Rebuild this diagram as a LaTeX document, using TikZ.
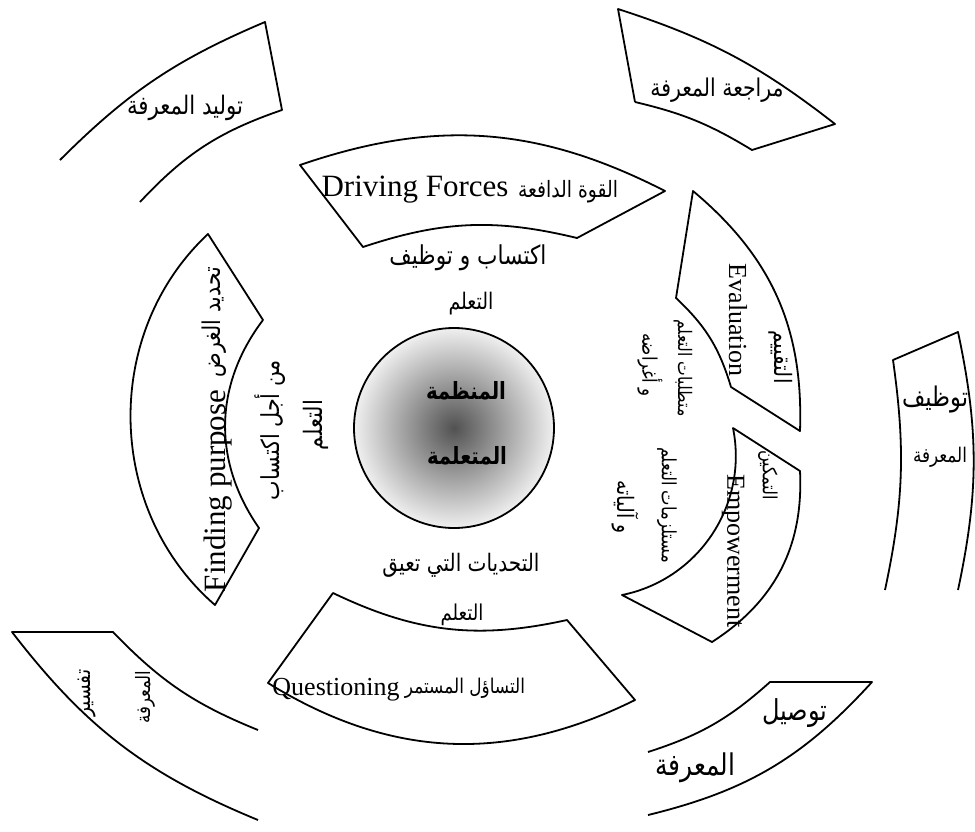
\documentclass[tikz,border=0pt]{standalone}
\usepackage{fontspec}
\usepackage{graphicx}
\setmainfont{Liberation Serif}
\newfontfamily\arabicfont[Script=Arabic]{DejaVu Sans}
\TeXXeTstate=1
% Arabic label scaled to a given width (in pt), slightly stretched upward
\newcommand{\artext}[2]{\scalebox{1}[1.2]{\resizebox{#1pt}{!}{\arabicfont #2}}}
\newcommand{\arbold}[2]{\scalebox{1}[1.2]{\resizebox{#1pt}{!}{\arabicfont\bfseries #2}}}
\begin{document}
\begin{tikzpicture}[x=1pt,y=-1pt,
  seg/.style={draw=black,line width=1.8pt,line join=round},
  lat/.style={inner sep=0pt,font=\fontsize{31}{31}\selectfont},
  latsm/.style={inner sep=0pt,font=\fontsize{26}{26}\selectfont},
  lab/.style={inner sep=0pt}]
\useasboundingbox (0,0) rectangle (975,831);

% centre disc
\shade[inner color=black!68,outer color=black!6] (454,428) circle (100);
\draw[line width=1.8pt] (454,428) circle (100);
\node[lab] (c1) at (466,391) {\arbold{80}{\beginR المنظمة\endR}};
\node[lab] (c2) at (467,456) {\arbold{80}{\beginR المتعلمة\endR}};

% inner ring segments
\draw[seg] (300,165) to[bend left=23] (665,191) -- (577,238) to[bend right=16] (363,247) -- cycle;
\draw[seg] (693,191) to[bend left=26] (800,431) -- (731,387) to[bend right=15] (676,298) -- cycle;
\draw[seg] (733,428) -- (800,471) to[bend left=30] (712,642) -- (622,595) to[bend right=45] (733,428) -- cycle;
\draw[seg] (208,234) to[bend right=48] (215,605) -- (259,528) to[bend left=36] (263,320) -- cycle;
\draw[seg] (333,593) to[bend right=19] (567,620) -- (635,700) to[bend left=29] (268,683) -- cycle;

% outer boxes
\draw[seg] (60,160) to[bend left=11] (265,22) -- (282,110) to[bend right=14] (140,202);
\draw[seg] (635,102) -- (618,9) to[bend left=10] (835,124) -- (752,150) to[bend right=9] (635,102);
\draw[seg] (885,590) to[bend right=10] (893,360) -- (958,332) to[bend left=12] (958,590);
\draw[seg] (258,820) to[bend left=15] (12,632) -- (113,632) to[bend right=12] (258,730);
\draw[seg] (648,815) to[bend right=17] (872,682) -- (770,682) to[bend left=12] (648,752);

% labels: top segment
\node[lat] (df) at (415,190) {Driving Forces};
\node[lab] (dfa) at (568,192) {\artext{100}{\beginR القوة الدافعة\endR}};
\node[lab] (t1) at (468,258) {\artext{157}{\beginR اكتساب و توظيف\endR}};
\node[lab] (t2) at (471,304) {\artext{45}{\beginR التعلم\endR}};
% labels: evaluation
\node[latsm,rotate=-90] (ev) at (738,320) {Evaluation};
\node[lab,rotate=-90] (eva) at (781,357) {\artext{53}{\beginR التقييم\endR}};
\node[lab,rotate=-90] (e1) at (683,368) {\artext{97}{\beginR متطلبات التعلم\endR}};
\node[lab,rotate=-90] (e2) at (650,365) {\artext{64}{\beginR و أغراضه\endR}};
% labels: empowerment
\node[latsm,rotate=-90] (em) at (733,551) {Empowerment};
\node[lab,rotate=-90] (ema) at (768,475) {\artext{50}{\beginR التمكين\endR}};
\node[lab,rotate=-90] (m1) at (667,505) {\artext{116}{\beginR مستلزمات التعلم\endR}};
\node[lab,rotate=-90] (m2) at (625,507) {\artext{53}{\beginR و آلياته\endR}};
% labels: left segment
\node[lat,rotate=90] (fp) at (218,491) {Finding purpose};
\node[lab,rotate=90] (fpa) at (214,322) {\artext{110}{\beginR تحديد الغرض\endR}};
\node[lab,rotate=90] (f1) at (270,430) {\artext{140}{\beginR من أجل اكتساب\endR}};
\node[lab,rotate=90] (f2) at (316,425) {\artext{50}{\beginR التعلم\endR}};
% labels: bottom segment
\node[lab] (b1) at (461,565) {\artext{157}{\beginR التحديات التي تعيق\endR}};
\node[lab] (b2) at (462,615) {\artext{43}{\beginR التعلم\endR}};
\node[latsm] (q) at (336,690) {Questioning};
\node[lab] (qa) at (465,688) {\artext{120}{\beginR التساؤل المستمر\endR}};

% labels: outer boxes
\node[lab] (o1) at (185,108) {\artext{116}{\beginR توليد المعرفة\endR}};
\node[lab] (o2) at (717,90) {\artext{133}{\beginR مراجعة المعرفة\endR}};
\node[lab] (o3) at (935,400) {\artext{66}{\beginR توظيف\endR}};
\node[lab] (o3b) at (940,457) {\artext{54}{\beginR المعرفة\endR}};
\node[lab,rotate=90] (o4) at (87,693) {\artext{47}{\beginR تفسير\endR}};
\node[lab,rotate=90] (o4b) at (145,697) {\artext{53}{\beginR المعرفة\endR}};
\node[lab] (o5) at (795,713) {\artext{65}{\beginR توصيل\endR}};
\node[lab] (o5b) at (695,768) {\artext{80}{\beginR المعرفة\endR}};
\end{tikzpicture}
\end{document}
